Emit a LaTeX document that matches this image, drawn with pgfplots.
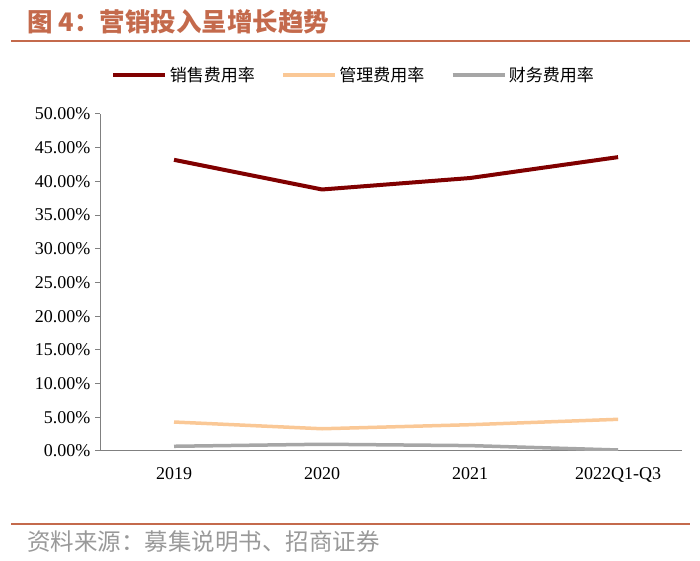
\documentclass[border=0pt]{standalone}
\usepackage{pgfplots}
\pgfplotsset{compat=1.18}
\usepackage{fontspec}
\setmainfont{Liberation Serif}
\newfontfamily\cjk{Noto Sans CJK SC}
\definecolor{titlec}{RGB}{196,106,76}
\definecolor{salesc}{RGB}{128,0,0}
\definecolor{adminc}{RGB}{250,200,150}
\definecolor{finc}{RGB}{166,166,166}
\definecolor{axisc}{RGB}{128,128,128}

\begin{document}
\begin{tikzpicture}[x=1pt,y=1pt]
\useasboundingbox (0,0) rectangle (700,561);
% title and rules
\node[anchor=west, inner sep=0pt, text=titlec, font=\cjk\bfseries\fontsize{25.5}{30}\selectfont] at (27,539) {图 4：营销投入呈增长趋势};
\draw[titlec, line width=1.6pt] (11,520) -- (690,520);
\draw[titlec, line width=1.6pt] (11,37) -- (690,37);
\node[anchor=west, inner sep=0pt, text=gray!80, font=\cjk\fontsize{23.5}{27}\selectfont] at (27,19) {资料来源：募集说明书、招商证券};

\begin{axis}[
  at={(100pt,110pt)}, anchor=south west,
  scale only axis, width=582pt, height=337pt,
  xmin=-0.5, xmax=3.432, ymin=0, ymax=50,
  axis lines=left, axis line style={axisc, line width=1pt, -},
  xtick={0,1,2,3},
  xticklabels={2019,2020,2021,2022Q1-Q3},
  major x tick style={draw=none},
  extra x ticks={-0.5,0.5,1.5,2.5},
  extra x tick labels={},
  extra x tick style={tick style={axisc, line width=1pt}, major tick length=4pt, tick align=outside},
  ytick={0,5,...,50},
  yticklabel={\pgfmathprintnumber[fixed,fixed zerofill,precision=2]{\tick}\%},
  y tick style={axisc, line width=1pt}, major tick length=5pt, tick align=outside,
  /pgf/number format/assume math mode=true,
  tick label style={font=\fontsize{18}{21}\selectfont, text=black},
  yticklabel style={xshift=-1pt},
  xticklabel style={yshift=-8pt},
  legend columns=3,
  legend style={draw=none, fill=none, at={(0.4364,1.116)}, anchor=center,
    font=\cjk\fontsize{17}{20}\selectfont,
    /tikz/every even column/.append style={column sep=24pt},
    nodes={inner sep=2.5pt}},
  legend image code/.code={\draw[#1] (0pt,0pt) -- (52pt,0pt);},
]
\addplot[salesc, line width=4pt] coordinates {(0,43.2) (1,38.8) (2,40.5) (3,43.6)};
\addlegendentry{销售费用率}
\addplot[adminc, line width=3.5pt] coordinates {(0,4.3) (1,3.3) (2,3.9) (3,4.7)};
\addlegendentry{管理费用率}
\addplot[finc, line width=3.5pt] coordinates {(0,0.7) (1,1.0) (2,0.8) (3,0.15)};
\addlegendentry{财务费用率}
\end{axis}
\end{tikzpicture}
\end{document}
